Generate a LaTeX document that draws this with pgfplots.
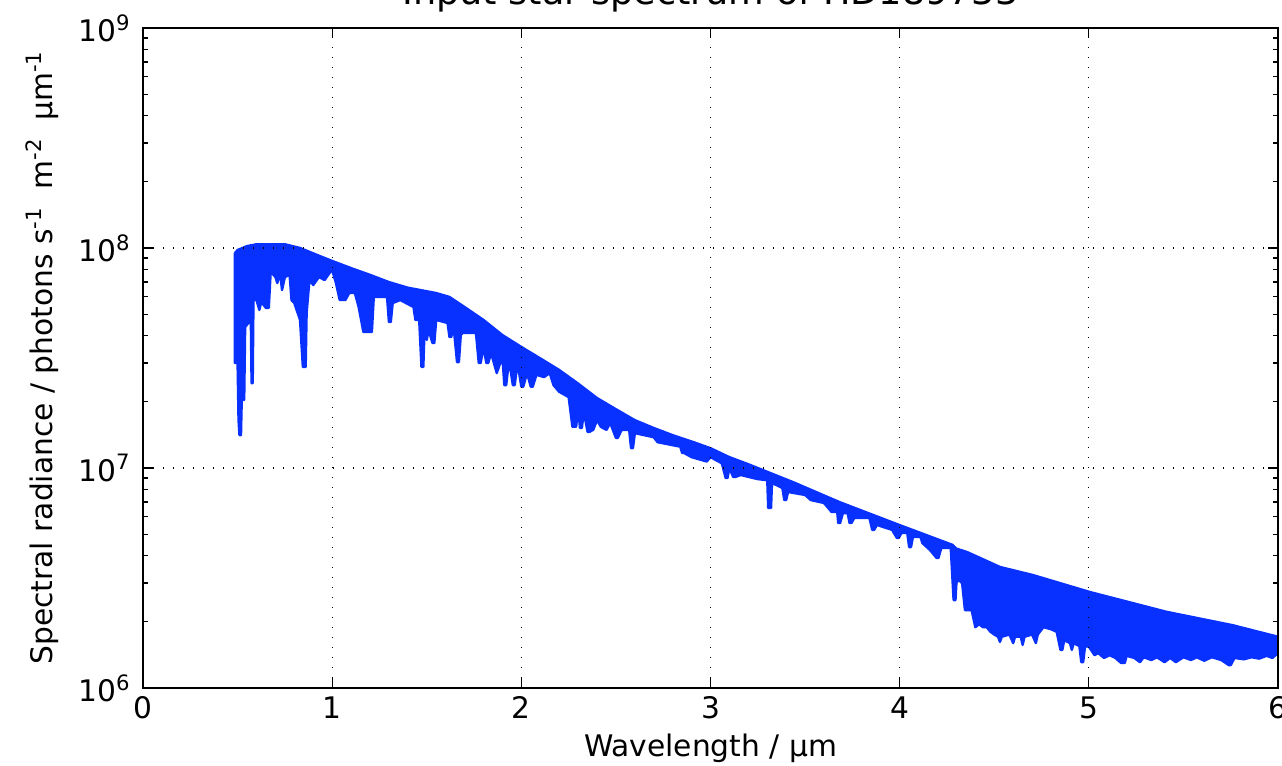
\documentclass[border=0pt]{standalone}
\usepackage{fontspec}
\setmainfont{DejaVu Sans}
\usepackage{pgfplots}
\pgfplotsset{compat=1.18}
\definecolor{specblue}{RGB}{8,48,255}
\newcommand{\sups}[1]{\raisebox{5.6pt}{\fontsize{10.6}{11}\selectfont #1}}
\begin{document}
\begin{tikzpicture}
\begin{axis}[
  scale only axis,
  width=567.5pt, height=330pt,
  xmin=0, xmax=6, ymin=1e6, ymax=1e9,
  ymode=log,
  font=\fontsize{14.85}{17}\selectfont,
  xtick={0,1,2,3,4,5,6},
  xticklabels={0,1,2,3,4,5,6},
  ytick={1e6,1e7,1e8,1e9},
  yticklabels={10\sups{6},10\sups{7},10\sups{8},10\sups{9}},
  xtick pos=both, ytick pos=both,
  tick align=inside,
  major tick length=5pt, minor tick length=2.5pt,
  every tick/.style={black, line width=0.6pt},
  xticklabel style={anchor=base, inner sep=0pt, yshift=-15.5pt},
  yticklabel style={anchor=east, inner sep=0pt, xshift=-6.5pt},
  axis line style={black, line width=1.1pt},
  grid=major,
  major grid style={black, line width=0.6pt, dash pattern=on 0.7pt off 4.3pt},
  axis on top,
  title={Input star spectrum of HD189733},
  title style={font=\fontsize{18.3}{21}\selectfont, at={(axis description cs:0.5,1)}, anchor=base, yshift=5.5pt},
  xlabel={Wavelength / μm},
  xlabel style={at={(axis description cs:0.5,0)}, anchor=base, yshift=-34.5pt},
  ylabel={Spectral radiance / photons s\sups{-1}\ \ m\sups{-2}\ \ μm\sups{-1}},
  ylabel style={at={(axis description cs:-0.0793,0.5)}, anchor=base},
]
\coordinate (SW) at (rel axis cs:0,0);
\coordinate (NE) at (rel axis cs:1,1);
% closed outline: upper envelope (left to right), then lower envelope (right to left)
\addplot[draw=specblue, fill=specblue, line width=1.2pt, line join=round] coordinates {
(0.486,9.49e7) (0.50,9.79e7) (0.55,1.02e8) (0.60,1.04e8) (0.75,1.04e8) (0.83,1.00e8)
(0.92,9.3e7) (1.00,8.73e7) (1.10,8.10e7) (1.20,7.55e7) (1.30,7.00e7) (1.40,6.60e7)
(1.55,6.24e7) (1.62,5.99e7) (1.70,5.39e7) (1.80,4.71e7) (1.90,4.02e7) (2.00,3.55e7)
(2.10,3.15e7) (2.20,2.79e7) (2.30,2.42e7) (2.40,2.08e7) (2.50,1.85e7) (2.60,1.65e7)
(2.70,1.52e7) (2.80,1.41e7) (2.90,1.32e7) (3.00,1.23e7) (3.10,1.12e7) (3.20,1.04e7)
(3.44,8.60e6) (3.68,7.01e6) (4.00,5.5e6) (4.28,4.47e6) (4.30,4.30e6) (4.356,4.15e6)
(4.53,3.55e6) (4.705,3.26e6) (5.006,2.73e6) (5.41,2.22e6) (5.76,1.93e6) (6.00,1.71e6)
(6.000,1.44e6) (5.970,1.37e6) (5.940,1.40e6) (5.900,1.36e6) (5.860,1.38e6) (5.820,1.35e6)
(5.770,1.37e6) (5.750,1.27e6) (5.740,1.27e6) (5.700,1.34e6) (5.650,1.38e6) (5.610,1.33e6)
(5.570,1.38e6) (5.540,1.34e6) (5.500,1.38e6) (5.460,1.31e6) (5.430,1.37e6) (5.400,1.31e6)
(5.360,1.38e6) (5.330,1.34e6) (5.290,1.38e6) (5.270,1.31e6) (5.240,1.37e6) (5.200,1.40e6)
(5.190,1.30e6) (5.170,1.30e6) (5.140,1.37e6) (5.110,1.41e6) (5.080,1.37e6) (5.050,1.44e6)
(5.030,1.41e6) (5.000,1.54e6) (4.980,1.55e6) (4.970,1.31e6) (4.960,1.31e6) (4.950,1.55e6)
(4.920,1.60e6) (4.910,1.49e6) (4.900,1.60e6) (4.870,1.65e6) (4.860,1.49e6) (4.850,1.49e6)
(4.830,1.80e6) (4.800,1.85e6) (4.760,1.89e6) (4.730,1.75e6) (4.720,1.60e6) (4.700,1.75e6)
(4.660,1.71e6) (4.650,1.57e6) (4.640,1.71e6) (4.610,1.71e6) (4.600,1.60e6) (4.580,1.75e6)
(4.540,1.71e6) (4.530,1.62e6) (4.520,1.71e6) (4.500,1.75e6) (4.480,1.80e6) (4.460,1.89e6)
(4.440,1.89e6) (4.420,1.95e6) (4.400,1.89e6) (4.380,2.26e6) (4.345,2.26e6) (4.330,3.00e6)
(4.310,3.10e6) (4.300,3.00e6) (4.295,2.51e6) (4.285,2.51e6) (4.270,4.33e6) (4.220,4.33e6)
(4.205,3.90e6) (4.195,3.90e6) (4.160,4.24e6) (4.120,4.56e6) (4.110,4.86e6) (4.070,4.86e6)
(4.060,4.37e6) (4.050,4.37e6) (4.040,5.07e6) (4.010,5.07e6) (3.995,4.81e6) (3.985,4.81e6)
(3.960,5.23e6) (3.880,5.51e6) (3.865,5.23e6) (3.855,5.23e6) (3.840,5.93e6) (3.760,5.93e6)
(3.745,5.62e6) (3.735,5.62e6) (3.725,6.24e6) (3.700,6.24e6) (3.685,5.62e6) (3.675,5.62e6)
(3.670,6.31e6) (3.640,6.31e6) (3.600,6.93e6) (3.530,7.15e6) (3.500,7.54e6) (3.410,7.78e6)
(3.400,7.15e6) (3.390,7.15e6) (3.380,8.11e6) (3.325,8.55e6) (3.320,6.58e6) (3.305,6.58e6)
(3.300,8.80e6) (3.250,8.90e6) (3.160,9.29e6) (3.130,9.10e6) (3.120,9.10e6) (3.100,1.00e7)
(3.090,9.01e6) (3.080,9.01e6) (3.060,1.05e7) (3.000,1.12e7) (2.980,1.07e7) (2.900,1.12e7)
(2.860,1.17e7) (2.850,1.17e7) (2.840,1.25e7) (2.720,1.31e7) (2.700,1.38e7) (2.600,1.44e7)
(2.590,1.23e7) (2.580,1.23e7) (2.570,1.49e7) (2.530,1.49e7) (2.510,1.37e7) (2.500,1.37e7)
(2.470,1.60e7) (2.450,1.49e7) (2.420,1.54e7) (2.400,1.65e7) (2.380,1.49e7) (2.360,1.46e7)
(2.350,1.46e7) (2.330,1.80e7) (2.320,1.52e7) (2.310,1.52e7) (2.300,1.90e7) (2.290,1.54e7)
(2.270,1.54e7) (2.250,2.10e7) (2.200,2.22e7) (2.170,2.38e7) (2.150,2.70e7) (2.120,2.59e7)
(2.080,2.65e7) (2.060,2.34e7) (2.050,2.34e7) (2.030,2.70e7) (2.010,2.34e7) (2.000,2.34e7)
(1.980,3.00e7) (1.965,2.38e7) (1.955,2.38e7) (1.935,3.10e7) (1.920,2.38e7) (1.910,2.38e7)
(1.900,3.20e7) (1.870,2.70e7) (1.840,3.33e7) (1.825,3.00e7) (1.815,3.00e7) (1.800,3.55e7)
(1.785,3.00e7) (1.775,3.00e7) (1.760,4.11e7) (1.690,4.11e7) (1.680,4.02e7) (1.670,3.03e7)
(1.660,3.03e7) (1.640,4.56e7) (1.630,3.94e7) (1.620,3.94e7) (1.610,4.56e7) (1.550,4.71e7)
(1.540,3.70e7) (1.530,3.70e7) (1.510,4.24e7) (1.500,3.82e7) (1.490,4.71e7) (1.482,2.88e7)
(1.472,2.88e7) (1.460,4.71e7) (1.440,4.71e7) (1.430,5.39e7) (1.360,5.80e7) (1.320,5.62e7)
(1.310,4.61e7) (1.300,4.61e7) (1.290,5.99e7) (1.220,5.99e7) (1.210,4.15e7) (1.165,4.15e7)
(1.140,5.39e7) (1.120,6.24e7) (1.090,6.24e7) (1.070,5.80e7) (1.040,5.80e7) (1.020,6.93e7)
(1.000,7.94e7) (0.990,7.78e7) (0.960,7.15e7) (0.930,7.38e7) (0.900,6.79e7) (0.880,7.15e7)
(0.865,5.07e7) (0.860,2.88e7) (0.845,2.88e7) (0.830,4.71e7) (0.800,5.62e7) (0.785,5.80e7)
(0.775,7.54e7) (0.750,7.38e7) (0.735,6.44e7) (0.725,7.70e7) (0.710,6.93e7) (0.700,7.38e7)
(0.675,7.78e7) (0.665,5.34e7) (0.650,5.34e7) (0.625,5.68e7) (0.615,5.23e7) (0.600,5.80e7)
(0.584,5.80e7) (0.580,2.43e7) (0.574,2.43e7) (0.570,4.71e7) (0.540,4.37e7) (0.535,2.04e7)
(0.522,2.04e7) (0.518,1.41e7) (0.510,1.41e7) (0.505,1.65e7) (0.500,3.00e7) (0.486,3.00e7)
(0.486,9.49e7)
};
\end{axis}
\pgfresetboundingbox
\useasboundingbox ([shift={(-71.5pt,-38.5pt)}]SW) rectangle ([shift={(2pt,14pt)}]NE);
\end{tikzpicture}
\end{document}
